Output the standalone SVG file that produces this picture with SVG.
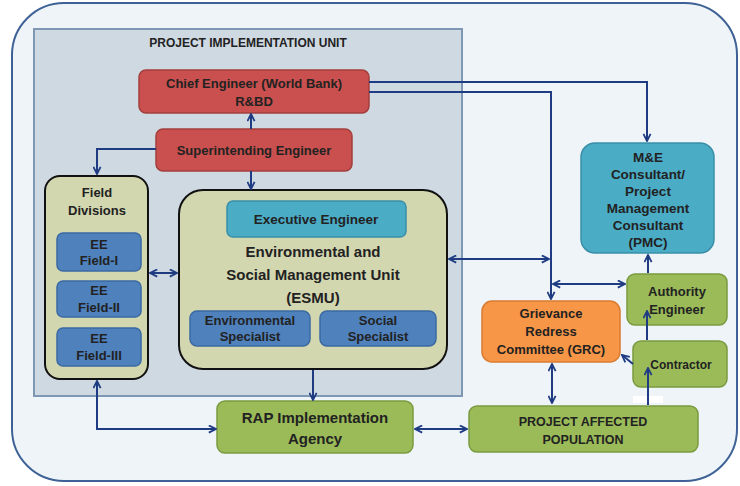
<svg xmlns="http://www.w3.org/2000/svg" width="740" height="486" viewBox="0 0 740 486">
<defs>
<marker id="ah2" viewBox="0 0 10 10" refX="9" refY="5" markerWidth="9" markerHeight="9" orient="auto-start-reverse" markerUnits="userSpaceOnUse">
<path d="M1,1 L9,5 L1,9" fill="none" stroke="#1f3b82" stroke-width="2"/>
</marker>
<style>
text{font-family:"Liberation Sans",Arial,sans-serif;font-weight:bold;font-size:13px;fill:#222;text-anchor:middle}
.red{fill:#c9504e;stroke:#a23f3d;stroke-width:1.5}
.olive{fill:#d3d7b0;stroke:#111;stroke-width:2}
.blue{fill:#4f81bd;stroke:#3b6aa3;stroke-width:1.5}
.cyan{fill:#4bacc6;stroke:#3a8fa8;stroke-width:1.5}
.green{fill:#9bbb59;stroke:#7a9a3f;stroke-width:1.5}
.orange{fill:#f79646;stroke:#d97b30;stroke-width:1.5}
.c{fill:none;stroke:#1f3b82;stroke-width:2}
</style>
</defs>
<rect x="12" y="3" width="725" height="478" rx="52" fill="#eef4f8" stroke="#3f6296" stroke-width="2"/>
<g id="piu">
<rect x="34" y="29" width="428" height="367" fill="#cfd9e2" stroke="#7d97b5" stroke-width="2"/>
<text x="248" y="47" style="font-size:12px">PROJECT IMPLEMENTATION  UNIT</text>
</g>
<g id="chief-engineer">
<rect class="red" x="139" y="70" width="230" height="43" rx="7"/>
<text x="254" y="88">Chief Engineer (World Bank)</text>
<text x="254" y="106">R&amp;BD</text>
</g>
<g id="superintending-engineer">
<rect class="red" x="156" y="129" width="196" height="42" rx="7"/>
<text x="254" y="155">Superintending Engineer</text>
</g>
<g id="field-divisions">
<rect class="olive" x="45" y="176" width="103" height="203" rx="15"/>
<text x="97" y="197">Field</text>
<text x="97" y="215">Divisions</text>
</g>
<g id="ee-field-1">
<rect class="blue" x="57" y="233" width="84" height="38" rx="6"/>
<text x="99" y="249">EE</text>
<text x="99" y="265">Field-I</text>
</g>
<g id="ee-field-2">
<rect class="blue" x="57" y="281" width="84" height="36" rx="6"/>
<text x="99" y="295">EE</text>
<text x="99" y="312">Field-II</text>
</g>
<g id="ee-field-3">
<rect class="blue" x="57" y="328" width="84" height="38" rx="6"/>
<text x="99" y="343">EE</text>
<text x="99" y="360">Field-III</text>
</g>
<g id="esmu">
<rect class="olive" x="179" y="190" width="268" height="179" rx="24"/>
<text x="313" y="257" style="font-size:15px">Environmental and</text>
<text x="313" y="280" style="font-size:15px">Social Management Unit</text>
<text x="313" y="303" style="font-size:15px">(ESMU)</text>
</g>
<g id="executive-engineer">
<rect class="cyan" x="227" y="201" width="179" height="36" rx="6"/>
<text x="316" y="224" style="font-size:13.5px">Executive Engineer</text>
</g>
<g id="environmental-specialist">
<rect class="blue" x="190" y="311" width="120" height="35" rx="7"/>
<text x="250" y="325">Environmental</text>
<text x="250" y="341">Specialist</text>
</g>
<g id="social-specialist">
<rect class="blue" x="320" y="311" width="116" height="35" rx="7"/>
<text x="378" y="325">Social</text>
<text x="378" y="341">Specialist</text>
</g>
<g id="me-consultant">
<rect class="cyan" x="581" y="143" width="133" height="110" rx="14"/>
<text x="648" y="162" style="font-size:13.5px">M&amp;E</text>
<text x="648" y="179" style="font-size:13.5px">Consultant/</text>
<text x="648" y="196" style="font-size:13.5px">Project</text>
<text x="648" y="213" style="font-size:13.5px">Management</text>
<text x="648" y="230" style="font-size:13.5px">Consultant</text>
<text x="648" y="247" style="font-size:13.5px">(PMC)</text>
</g>
<g id="authority-engineer">
<rect class="green" x="627" y="274" width="100" height="51" rx="8"/>
<text x="677" y="296">Authority</text>
<text x="677" y="314">Engineer</text>
</g>
<g id="contractor">
<rect class="green" x="633" y="341" width="94" height="46" rx="8"/>
<text x="681" y="369" style="font-size:12px">Contractor</text>
</g>
<g id="grc">
<rect class="orange" x="482" y="301" width="138" height="61" rx="10"/>
<text x="551" y="318">Grievance</text>
<text x="551" y="336">Redress</text>
<text x="551" y="354">Committee (GRC)</text>
</g>
<g id="rap-agency">
<rect class="green" x="217" y="401" width="196" height="52" rx="8"/>
<text x="315" y="423" style="font-size:15px">RAP Implementation</text>
<text x="315" y="444" style="font-size:15px">Agency</text>
</g>
<g id="project-affected-population">
<rect class="green" x="469" y="406" width="229" height="46" rx="8"/>
<text x="583" y="426" style="font-size:12.5px">PROJECT AFFECTED</text>
<text x="583" y="444" style="font-size:12.5px">POPULATION</text>
</g>
<rect x="633" y="396" width="30" height="7" fill="#ffffff"/>
<g id="connectors">
<path class="c" d="M369,82 H647 V141" marker-end="url(#ah2)"/>
<path class="c" d="M369,92 H551 V299" marker-end="url(#ah2)"/>
<path class="c" d="M251,129 V114" marker-end="url(#ah2)"/>
<path class="c" d="M251,171 V189" marker-end="url(#ah2)"/>
<path class="c" d="M156,149 H97 V174" marker-end="url(#ah2)"/>
<path class="c" d="M150,273 H177" marker-start="url(#ah2)" marker-end="url(#ah2)"/>
<path class="c" d="M449,259 H549" marker-start="url(#ah2)" marker-end="url(#ah2)"/>
<path class="c" d="M553,284 H625" marker-start="url(#ah2)" marker-end="url(#ah2)"/>
<path class="c" d="M313,370 V400" marker-end="url(#ah2)"/>
<path class="c" d="M97,381 V429 H216" marker-start="url(#ah2)" marker-end="url(#ah2)"/>
<path class="c" d="M415,429 H467" marker-start="url(#ah2)" marker-end="url(#ah2)"/>
<path class="c" d="M552,364 V403" marker-start="url(#ah2)" marker-end="url(#ah2)"/>
<path class="c" d="M648,273 V255" marker-end="url(#ah2)"/>
<path class="c" d="M647,340 V311" marker-end="url(#ah2)"/>
<path class="c" d="M648,405 V368" marker-end="url(#ah2)"/>
<path class="c" d="M633,364 L622,355" marker-end="url(#ah2)"/>
</g>
</svg>
